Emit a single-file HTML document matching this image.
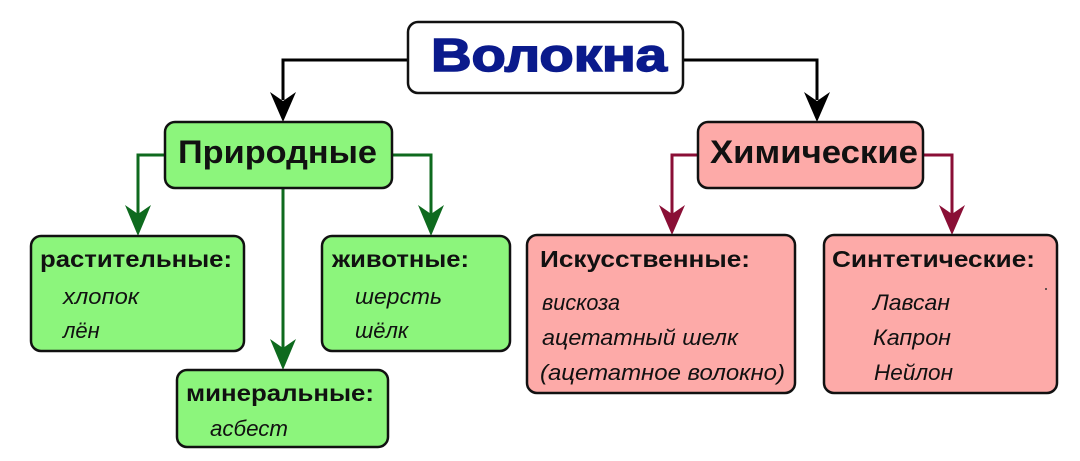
<!DOCTYPE html>
<html><head><meta charset="utf-8"><style>
html,body{margin:0;padding:0;background:#fff;width:1080px;height:461px;overflow:hidden}
svg text{font-family:"Liberation Sans","DejaVu Sans",sans-serif}
.h{font-weight:bold;font-size:23px;fill:#111}
.i{font-style:italic;font-size:22px;fill:#111}
</style></head><body>
<svg width="1080" height="461" viewBox="0 0 1080 461" xmlns="http://www.w3.org/2000/svg">
<g stroke="#000" stroke-width="3" fill="none">
<polyline points="408,60 283,60 283,100"/>
<polyline points="683,60 817,60 817,100"/>
</g>
<path d="M270,92 L283,101 L296,92 L283,122 Z" fill="#000"/>
<path d="M804,92 L817,101 L830,92 L817,122 Z" fill="#000"/>
<g stroke="#0e6a1e" stroke-width="3" fill="none">
<polyline points="165,155 138,155 138,215"/>
<polyline points="392,155 431,155 431,215"/>
<polyline points="283,188 283,350"/>
</g>
<path d="M125,205 L138,214 L151,205 L138,236 Z" fill="#0e6a1e"/>
<path d="M418,205 L431,214 L444,205 L431,236 Z" fill="#0e6a1e"/>
<path d="M270,339 L283,348 L296,339 L283,370 Z" fill="#0e6a1e"/>
<g stroke="#8a0f36" stroke-width="3" fill="none">
<polyline points="698,155 672,155 672,215"/>
<polyline points="923,155 952,155 952,215"/>
</g>
<path d="M659,205 L672,214 L685,205 L672,235 Z" fill="#8a0f36"/>
<path d="M939,205 L952,214 L965,205 L952,235 Z" fill="#8a0f36"/>
<rect x="408" y="22" width="275" height="71" rx="10" fill="#fff" stroke="#111" stroke-width="2.5"/>
<text x="431" y="71" textLength="236" lengthAdjust="spacingAndGlyphs" font-size="46" font-weight="bold" fill="#0a1a8c" stroke="#0a1a8c" stroke-width="1.5">Волокна</text>
<g fill="#8cf57c" stroke="#111" stroke-width="2.5">
<rect x="165" y="122" width="227" height="66" rx="10"/>
<rect x="31" y="236" width="213" height="115" rx="10"/>
<rect x="322" y="236" width="188" height="115" rx="10"/>
<rect x="177" y="370" width="211" height="77" rx="10"/>
</g>
<text x="178" y="163" textLength="199" lengthAdjust="spacingAndGlyphs" font-size="32" font-weight="bold" fill="#111">Природные</text>
<text x="40" y="267" textLength="192" lengthAdjust="spacingAndGlyphs" class="h">растительные:</text>
<text x="63" y="304" textLength="76" lengthAdjust="spacingAndGlyphs" class="i">хлопок</text>
<text x="63" y="338" class="i">лён</text>
<text x="332" y="267" textLength="137" lengthAdjust="spacingAndGlyphs" class="h">животные:</text>
<text x="355" y="304" textLength="87" lengthAdjust="spacingAndGlyphs" class="i">шерсть</text>
<text x="355" y="338" class="i">шёлк</text>
<text x="186" y="401" textLength="188" lengthAdjust="spacingAndGlyphs" class="h">минеральные:</text>
<text x="210" y="436" textLength="78" lengthAdjust="spacingAndGlyphs" class="i">асбест</text>
<g fill="#fdaaa8" stroke="#111" stroke-width="2.5">
<rect x="698" y="122" width="225" height="66" rx="10"/>
<rect x="527" y="235" width="268" height="158" rx="10"/>
<rect x="824" y="235" width="233" height="158" rx="10"/>
</g>
<text x="710" y="163" textLength="208" lengthAdjust="spacingAndGlyphs" font-size="32" font-weight="bold" fill="#111">Химические</text>
<text x="540" y="267" textLength="210" lengthAdjust="spacingAndGlyphs" class="h">Искусственные:</text>
<text x="542" y="310" textLength="78" lengthAdjust="spacingAndGlyphs" class="i">вискоза</text>
<text x="542" y="345" textLength="196" lengthAdjust="spacingAndGlyphs" class="i">ацетатный шелк</text>
<text x="540" y="380" textLength="245" lengthAdjust="spacingAndGlyphs" class="i">(ацетатное волокно)</text>
<text x="832" y="267" textLength="203" lengthAdjust="spacingAndGlyphs" class="h">Синтетические:</text>
<text x="873" y="310" textLength="77" lengthAdjust="spacingAndGlyphs" class="i">Лавсан</text>
<text x="873" y="345" textLength="78" lengthAdjust="spacingAndGlyphs" class="i">Капрон</text>
<text x="874" y="380" textLength="79" lengthAdjust="spacingAndGlyphs" class="i">Нейлон</text>
<circle cx="1046" cy="289" r="1" fill="#333"/>
</svg>
</body></html>
